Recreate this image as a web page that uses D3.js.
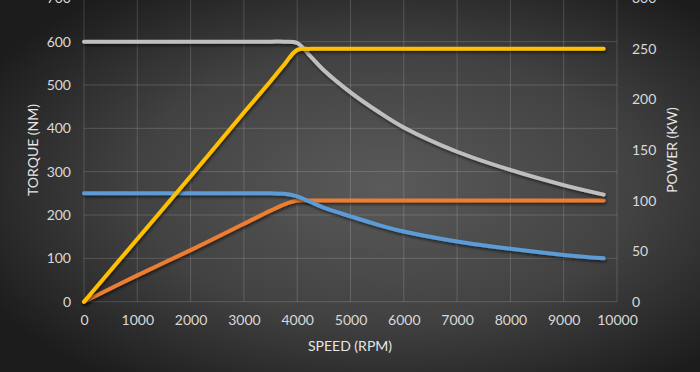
<!DOCTYPE html>
<html>
<head>
<meta charset="utf-8">
<script src="https://cdn.jsdelivr.net/npm/d3@7"></script>
<style>
  html, body { margin: 0; padding: 0; background: #2a2a2a; }
  svg { display: block; }
  .tick-label { font-family: Lato, "Open Sans", sans-serif; font-size: 14px; fill: #d9d9d9; }
  .axis-title { font-family: Lato, "Open Sans", sans-serif; font-size: 14px; fill: #e6e6e6; }
</style>
</head>
<body>
<div id="chart"></div>
<script>
// frame constants
const FRAME_WIDTH = 700;
const FRAME_HEIGHT = 372;
const PLOT = {left: 84, right: 617, top: -1.7, bottom: 301.7};

// data
const SPEED = [0, 1000, 2000, 3000, 3500, 3750, 4000, 4250, 4500, 5000, 5500, 6000, 7000, 8000, 9000, 9750];
const TORQUE_HIGH = [600, 600, 600, 600, 600, 600, 597, 566, 534, 483, 440, 402, 346, 304, 269, 247];
const POWER_HIGH = [0, 62, 124, 187, 218, 234, 249, 250, 250, 250, 250, 250, 250, 250, 250, 250];
const TORQUE_LOW = [250, 250, 250, 250, 250, 249, 243, 230, 217, 197, 178, 162, 139, 122, 108, 100];
const POWER_LOW = [0, 26, 51, 77, 90, 96, 100, 100, 100, 100, 100, 100, 100, 100, 100, 100];

const X_TICKS = [0, 1000, 2000, 3000, 4000, 5000, 6000, 7000, 8000, 9000, 10000];
const LEFT_TICKS = [0, 100, 200, 300, 400, 500, 600, 700];
const RIGHT_TICKS = [0, 50, 100, 150, 200, 250, 300];

const FRAME = d3.select("#chart")
  .append("svg")
  .attr("width", FRAME_WIDTH)
  .attr("height", FRAME_HEIGHT);

const DEFS = FRAME.append("defs");

// dark radial background
const BG = DEFS.append("radialGradient")
  .attr("id", "bg")
  .attr("cx", "55%").attr("cy", "50%")
  .attr("r", "65%");
BG.append("stop").attr("offset", "0%").attr("stop-color", "#5a5a5a");
BG.append("stop").attr("offset", "55%").attr("stop-color", "#424242");
BG.append("stop").attr("offset", "100%").attr("stop-color", "#1c1c1c");

DEFS.append("filter")
  .attr("id", "shadow")
  .attr("x", "-5%").attr("y", "-5%")
  .attr("width", "110%").attr("height", "120%")
  .append("feDropShadow")
  .attr("dx", 1).attr("dy", 2)
  .attr("stdDeviation", 1.5)
  .attr("flood-color", "#000")
  .attr("flood-opacity", 0.55);

FRAME.append("rect")
  .attr("width", FRAME_WIDTH)
  .attr("height", FRAME_HEIGHT)
  .attr("fill", "url(#bg)");

// scales
const X_SCALE = d3.scaleLinear().domain([0, 10000]).range([PLOT.left, PLOT.right]);
const Y_LEFT = d3.scaleLinear().domain([0, 700]).range([PLOT.bottom, PLOT.top]);
const Y_RIGHT = d3.scaleLinear().domain([0, 300]).range([PLOT.bottom, PLOT.top]);

// gridlines
FRAME.append("g")
  .selectAll("line")
  .data(X_TICKS)
  .enter()
  .append("line")
  .attr("x1", (d) => X_SCALE(d)).attr("x2", (d) => X_SCALE(d))
  .attr("y1", PLOT.top).attr("y2", PLOT.bottom)
  .attr("stroke", "#ffffff").attr("stroke-opacity", 0.16);

FRAME.append("g")
  .selectAll("line")
  .data(LEFT_TICKS)
  .enter()
  .append("line")
  .attr("x1", PLOT.left).attr("x2", PLOT.right)
  .attr("y1", (d) => Y_LEFT(d)).attr("y2", (d) => Y_LEFT(d))
  .attr("stroke", "#ffffff").attr("stroke-opacity", 0.16);

// axes (labels only, domain and tick marks hidden)
const X_AXIS = FRAME.append("g")
  .attr("transform", "translate(0," + (PLOT.bottom + 13) + ")")
  .call(d3.axisBottom(X_SCALE).tickValues(X_TICKS).tickSize(0).tickPadding(0).tickFormat(d3.format("d")));

const L_AXIS = FRAME.append("g")
  .attr("transform", "translate(" + (PLOT.left - 13) + ",0)")
  .call(d3.axisLeft(Y_LEFT).tickValues(LEFT_TICKS).tickSize(0).tickPadding(0));

const R_AXIS = FRAME.append("g")
  .attr("transform", "translate(632,0)")
  .call(d3.axisRight(Y_RIGHT).tickValues(RIGHT_TICKS).tickSize(0).tickPadding(0));

[X_AXIS, L_AXIS, R_AXIS].forEach((ax) => {
  ax.select(".domain").remove();
  ax.selectAll("text").attr("class", "tick-label").attr("fill", null);
  ax.attr("font-family", null).attr("font-size", null);
});
X_AXIS.selectAll("text").attr("dy", "0.71em");

// axis titles
FRAME.append("text")
  .attr("class", "axis-title")
  .attr("x", 350).attr("y", 351)
  .attr("text-anchor", "middle")
  .text("SPEED (RPM)");

FRAME.append("text")
  .attr("class", "axis-title")
  .attr("transform", "translate(38,150) rotate(-90)")
  .attr("text-anchor", "middle")
  .text("TORQUE (NM)");

FRAME.append("text")
  .attr("class", "axis-title")
  .attr("transform", "translate(677,150) rotate(-90)")
  .attr("text-anchor", "middle")
  .text("POWER (KW)");

// series
const SERIES = [
  {values: POWER_LOW, scale: Y_RIGHT, color: "#ed7d31"},
  {values: TORQUE_LOW, scale: Y_LEFT, color: "#5b9bd5"},
  {values: TORQUE_HIGH, scale: Y_LEFT, color: "#bfbfbf"},
  {values: POWER_HIGH, scale: Y_RIGHT, color: "#ffc000"}
];

SERIES.forEach((s) => {
  const LINE = d3.line()
    .x((d, i) => X_SCALE(SPEED[i]))
    .y((d) => s.scale(d))
    .curve(d3.curveCatmullRom.alpha(0.5));

  FRAME.append("path")
    .datum(s.values)
    .attr("d", LINE)
    .attr("fill", "none")
    .attr("stroke", s.color)
    .attr("stroke-width", 4)
    .attr("stroke-linecap", "round")
    .attr("stroke-linejoin", "round")
    .attr("filter", "url(#shadow)");
});
</script>
</body>
</html>
